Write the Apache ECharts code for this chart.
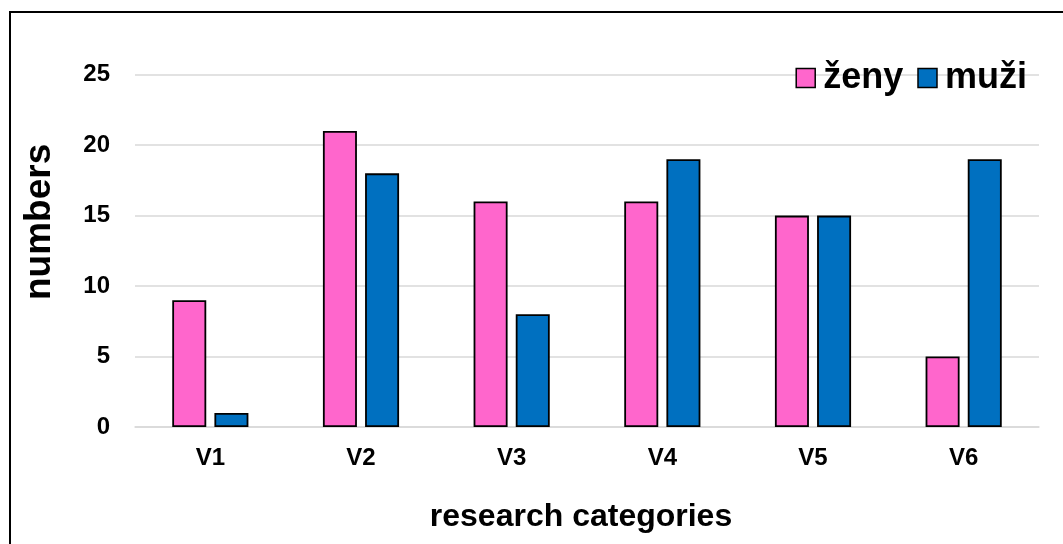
<!DOCTYPE html>
<html>
<head>
<meta charset="utf-8">
<script src="https://cdn.jsdelivr.net/npm/echarts@6/dist/echarts.min.js"></script>
<style>html,body{margin:0;padding:0;background:#fff;}#c{width:1063px;height:544px;}</style>
</head>
<body>
<div id="c"></div>
<script>
var categories = ['V1', 'V2', 'V3', 'V4', 'V5', 'V6'];
var zeny = [9, 21, 16, 16, 15, 5];
var muzi = [1, 18, 8, 19, 15, 19];
var seriesNames = ['ženy', 'muži'];
var yTicks = { min: 0, max: 25, interval: 5 };

var FONT = '"Liberation Sans", Arial, sans-serif';
var chart = echarts.init(document.getElementById('c'));
chart.setOption({
  animation: false,
  backgroundColor: '#fff',
  graphic: [{
    type: 'rect', shape: { x: 10, y: 12, width: 1200, height: 700 },
    style: { fill: 'none', stroke: '#000', lineWidth: 2 }, silent: true, z: 100
  }],
  legend: {
    right: 31, top: 55, icon: 'rect',
    itemWidth: 19, itemHeight: 19, itemGap: 14,
    itemStyle: { borderColor: '#000', borderWidth: 1.5 },
    textStyle: { fontFamily: FONT, fontWeight: 'bold', fontSize: 36, color: '#000', padding: [0, 0, 0, 3] },
    data: seriesNames
  },
  grid: { left: 135, right: 24, top: 74.7, bottom: 117 },
  xAxis: {
    type: 'category', data: categories,
    name: 'research categories', nameLocation: 'middle', nameGap: 74,
    nameTextStyle: { fontFamily: FONT, fontWeight: 'bold', fontSize: 32, color: '#000', padding: [0, 12, 0, 0] },
    axisLine: { lineStyle: { color: '#d9d9d9', width: 1.5 } },
    axisTick: { show: false },
    axisLabel: { fontFamily: FONT, fontWeight: 'bold', fontSize: 24, color: '#000', margin: 19 }
  },
  yAxis: {
    type: 'value', min: yTicks.min, max: yTicks.max, interval: yTicks.interval,
    name: 'numbers', nameLocation: 'middle', nameGap: 77, nameRotate: 90,
    nameTextStyle: { fontFamily: FONT, fontWeight: 'bold', fontSize: 37, color: '#000', padding: [0, 0, 0, 58] },
    axisLine: { show: false }, axisTick: { show: false },
    splitLine: { lineStyle: { color: '#d9d9d9', width: 1.5 } },
    axisLabel: { fontFamily: FONT, fontWeight: 'bold', fontSize: 24, color: '#000', margin: 25 }
  },
  series: [
    { name: seriesNames[0], type: 'bar', data: zeny, barWidth: 34, barGap: '24%',
      itemStyle: { color: '#FF66CC', borderColor: '#000', borderWidth: 1.8 } },
    { name: seriesNames[1], type: 'bar', data: muzi, barWidth: 34,
      itemStyle: { color: '#0070C0', borderColor: '#000', borderWidth: 1.8 } }
  ]
});
</script>
</body>
</html>
